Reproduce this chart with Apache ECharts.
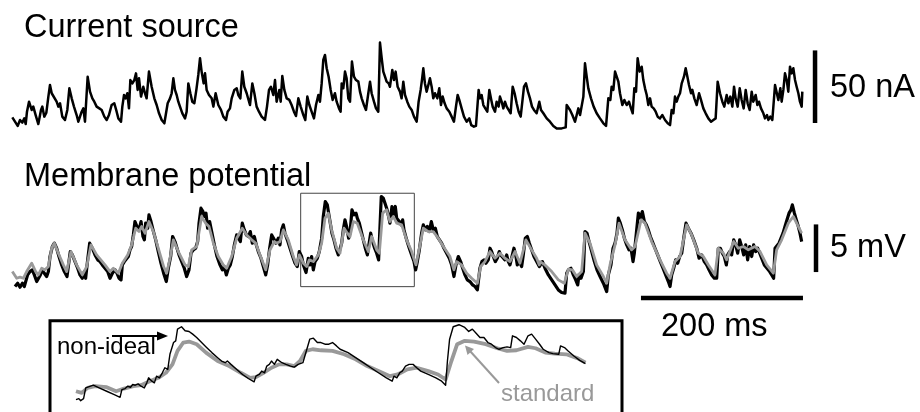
<!DOCTYPE html>
<html><head><meta charset="utf-8">
<script src="https://cdn.jsdelivr.net/npm/echarts@6/dist/echarts.min.js"></script>
<style>html,body{margin:0;padding:0;background:#fff}#c{width:920px;height:412px}</style>
</head><body><div id="c"></div>
<script>
// Current source trace: [time ms, current nA]
const currentTrace = [[0.4,8.7],[7.0,2.8],[9.9,6.9],[12.8,5.1],[15.2,8.0],[16.9,4.1],[18.5,12.6],[21.0,19.5],[24.3,13.8],[26.3,16.1],[29.2,10.3],[32.5,4.1],[35.8,13.8],[37.4,16.1],[39.9,9.2],[42.4,11.9],[44.9,23.0],[46.9,31.0],[49.0,25.3],[51.4,26.4],[55.1,19.5],[57.2,16.1],[59.3,18.4],[62.1,9.2],[65.4,6.9],[68.3,13.8],[70.8,28.7],[73.7,21.8],[76.5,16.1],[79.8,10.3],[81.9,5.7],[86.0,12.6],[88.1,14.9],[90.1,5.7],[93.4,36.7],[96.3,26.4],[99.2,21.8],[101.6,19.5],[104.5,16.1],[107.8,14.9],[110.7,13.8],[114.0,9.2],[116.9,6.9],[119.7,10.3],[123.0,17.2],[126.3,18.4],[129.2,12.6],[131.3,8.0],[134.6,5.7],[136.2,16.1],[138.3,24.1],[140.3,21.8],[142.4,25.3],[144.4,14.9],[146.1,34.4],[148.6,32.1],[151.0,34.4],[153.1,39.0],[155.1,27.6],[156.8,35.6],[159.3,23.0],[162.1,29.8],[164.2,25.3],[166.2,21.8],[169.1,40.2],[172.4,29.8],[175.7,21.8],[178.6,17.2],[181.5,11.5],[184.8,6.9],[188.1,4.6],[190.1,3.4],[192.2,18.4],[195.1,21.8],[197.1,25.3],[199.2,35.6],[201.2,27.6],[203.3,24.1],[205.3,19.5],[207.4,16.1],[210.3,11.5],[213.6,8.0],[215.6,12.6],[217.7,32.1],[220.2,25.3],[222.6,19.5],[225.1,18.4],[227.6,27.6],[230.0,37.9],[232.1,49.4],[234.1,40.2],[236.6,32.1],[238.3,39.0],[240.3,27.6],[243.2,24.1],[246.5,21.8],[248.6,16.1],[251.4,25.3],[254.7,17.2],[258.0,13.8],[260.9,9.2],[264.2,6.9],[266.2,12.6],[269.1,14.9],[271.2,21.8],[274.5,27.6],[277.4,28.7],[279.4,24.1],[281.9,21.8],[284.3,40.2],[286.8,29.8],[289.7,25.3],[293.8,17.2],[296.7,32.1],[299.2,25.3],[302.0,16.1],[304.9,12.6],[308.2,9.2],[312.3,6.9],[314.8,16.1],[317.3,27.6],[319.7,29.8],[322.6,24.1],
[324.7,34.4],[326.7,19.5],[330.0,27.6],[331.7,19.5],[333.7,37.2],[336.2,27.6],[339.1,21.8],[342.4,20.7],[345.2,17.2],[348.1,12.6],[350.6,9.6],[353.5,21.8],[356.4,16.1],[359.7,10.3],[362.1,6.9],[364.6,23.0],[367.1,17.2],[369.9,12.6],[372.8,8.0],[375.3,17.2],[378.2,24.1],[380.2,19.5],[382.3,32.1],[384.3,48.2],[386.4,51.7],[388.5,42.5],[390.9,36.7],[393.4,27.6],[395.9,20.7],[398.7,25.3],[400.8,19.5],[403.7,14.9],[405.7,12.6],[407.0,32.1],[409.0,28.7],[411.1,40.2],[413.1,35.6],[415.2,21.8],[417.3,19.5],[419.7,47.1],[422.2,36.7],[424.7,34.4],[427.6,33.3],[429.6,26.4],[431.7,21.8],[434.5,17.2],[437.0,13.8],[439.9,25.3],[442.0,33.3],[444.0,25.3],[446.9,19.5],[449.4,14.9],[452.2,12.6],[454.3,60.2],[456.4,49.4],[458.4,40.2],[460.5,36.7],[462.5,33.3],[465.0,32.1],[466.6,29.8],[469.5,41.3],[471.6,34.4],[473.6,40.2],[476.1,29.8],[479.0,26.4],[481.0,21.8],[483.1,33.3],[485.2,24.1],[488.0,19.5],[490.5,16.1],[493.4,13.8],[496.3,9.2],[499.6,5.7],[502.0,19.5],[504.5,27.6],[506.1,34.4],[507.8,42.5],[509.8,32.1],[511.9,26.4],[514.0,31.0],[516.0,35.6],[518.1,29.8],[520.1,21.8],[522.2,25.3],[525.1,21.8],[527.5,28.7],[529.6,17.2],[531.7,23.0],[534.1,18.4],[536.6,14.9],[539.9,12.6],[542.8,9.2],[545.6,5.7],[548.1,16.1],[550.2,24.1],[552.2,20.7],[555.1,14.9],[558.0,9.2],[561.3,5.7],[564.6,8.0],[567.0,3.4],[570.3,2.3],[572.8,2.8],[574.5,1.8],[576.1,27.6],[577.7,21.8],[579.8,24.1],[581.9,17.2],[584.3,14.9],[586.8,12.6],[589.3,27.6],[591.7,20.7],[593.4,16.1],[596.3,12.6],[598.3,19.5],[600.8,16.1],[602.4,23.0],[604.5,19.5],[606.6,14.9],[608.6,19.5],[610.7,16.1],[613.1,13.8],[615.6,11.5],[618.1,29.8],[620.5,25.3],[623.0,18.4],[625.5,12.6],[628.0,9.2],[630.4,10.3],[632.1,29.8],[634.5,32.1],[637.0,26.4],[639.5,21.8],[642.0,16.1],[644.4,13.8],[647.7,11.5],[651.0,19.5],
[653.1,13.8],[656.0,11.5],[660.1,8.0],[664.2,5.7],[668.3,2.8],[672.5,1.1],[678.6,1.1],[683.6,1.8],[684.8,17.2],[686.9,18.4],[688.9,13.8],[691.8,10.3],[695.1,5.7],[697.1,4.6],[699.2,14.9],[701.3,10.3],[703.3,9.2],[705.4,23.0],[707.4,45.9],[709.5,36.7],[711.5,28.7],[714.8,21.8],[718.1,16.1],[721.8,11.5],[725.9,8.0],[730.1,4.6],[733.4,2.8],[735.4,1.8],[736.2,21.8],[738.7,20.7],[740.3,29.8],[742.4,27.6],[744.5,40.2],[746.5,41.3],[748.6,33.3],[750.6,25.3],[753.5,17.2],[756.0,20.7],[758.9,17.2],[761.7,19.5],[764.2,14.9],[766.3,11.5],[768.3,28.7],[770.4,26.4],[772.4,49.4],[774.9,40.2],[777.4,43.6],[779.4,34.4],[781.5,28.7],[783.6,24.1],[785.6,17.2],[787.7,21.8],[789.7,16.1],[792.2,14.9],[794.7,12.6],[797.1,9.2],[800.0,8.0],[802.9,10.3],[806.2,6.9],[809.5,4.6],[812.4,3.4],[814.4,13.8],[816.5,11.5],[818.5,23.0],[820.6,19.5],[822.6,23.0],[824.7,25.3],[826.8,32.1],[829.6,36.7],[831.7,42.5],[833.8,36.7],[835.8,31.0],[838.3,25.3],[839.9,27.6],[842.4,21.8],[845.3,17.2],[848.2,25.3],[850.6,20.7],[853.5,14.9],[856.4,11.5],[859.7,8.0],[863.0,5.7],[865.9,6.9],[868.7,8.0],[871.2,33.3],[874.1,25.3],[877.0,19.5],[879.4,16.1],[882.3,24.1],[884.4,18.4],[886.8,23.0],[889.3,16.1],[891.4,29.8],[893.4,21.8],[895.9,16.1],[898.4,28.7],[900.8,20.7],[903.3,14.9],[905.8,27.6],[908.2,18.4],[910.7,13.8],[913.2,26.4],[915.2,19.5],[918.1,24.1],[920.2,17.2],[922.2,19.5],[924.7,14.9],[927.6,11.5],[929.6,8.0],[932.1,10.3],[933.8,6.9],[936.2,9.2],[938.7,6.9],[940.3,8.0],[942.0,31.0],[944.0,29.8],[946.1,20.7],[948.6,28.7],[950.2,19.5],[952.3,27.6],[954.3,39.0],[956.4,34.4],[958.4,26.4],[960.5,43.6],[962.6,39.0],[964.6,42.5],[966.7,34.4],[968.7,29.8],[970.8,25.3],[972.8,19.5],[974.9,16.1],[975.7,26.4]];

// Membrane potential, non-ideal source (black): [time ms, mV]
const vmNonIdeal = [[3.7,0.88],[7.0,1.23],[9.9,0.81],[12.8,1.23],[15.2,0.88],[16.9,1.4],[19.3,2.1],[22.2,2.45],[25.1,2.63],[27.6,2.1],[30.5,1.4],[32.5,1.23],[35.0,2.1],[37.4,2.63],[39.9,2.28],[42.8,1.93],[44.9,2.45],[46.9,4.03],[49.8,5.08],[52.3,5.43],[55.1,4.9],[58.0,4.03],[61.3,3.15],[64.6,2.45],[67.9,1.93],[69.5,2.98],[72.0,4.55],[74.5,4.2],[77.8,3.5],[81.1,2.8],[83.9,2.1],[86.8,1.75],[89.3,2.45],[90.9,1.75],[93.4,3.68],[95.9,5.43],[99.2,4.9],[102.5,4.2],[105.8,3.68],[108.6,3.5],[111.5,3.15],[114.8,2.8],[118.1,2.45],[121.0,1.75],[123.9,2.28],[127.2,2.63],[129.6,2.28],[132.1,1.75],[134.6,1.58],[136.2,3.15],[138.7,3.5],[141.1,3.68],[143.6,4.03],[145.7,4.73],[147.7,5.08],[149.8,6.3],[151.8,7.7],[154.3,7.18],[156.8,6.83],[159.3,7.7],[161.7,6.13],[163.4,5.78],[165.0,7.53],[167.5,7.0],[169.1,8.4],[171.6,7.7],[174.1,6.83],[177.4,5.78],[180.6,4.55],[183.9,3.33],[187.2,2.28],[190.5,1.4],[193.0,2.8],[195.9,4.03],[198.3,6.13],[201.2,5.6],[203.7,4.9],[206.2,4.2],[209.5,3.5],[212.7,2.8],[215.6,1.93],[218.5,2.63],[221.0,4.38],[223.9,4.73],[226.7,4.9],[229.2,5.6],[230.9,7.53],[233.3,9.1],[235.8,8.75],[237.4,8.23],[239.5,8.58],[241.5,7.0],[244.0,7.7],[246.5,6.65],[249.8,5.25],[253.1,4.03],[256.8,3.15],[259.7,2.63],[262.1,2.98],[264.6,2.1],[267.1,2.8],[269.5,3.15],[272.0,4.03],[274.5,5.25],[277.4,6.3],[279.4,6.13],[281.9,5.6],[284.3,7.53],[286.8,6.83],[289.3,6.3],[291.8,6.13],[294.2,6.65],[296.7,5.43],[299.2,6.13],[301.6,5.25],[304.1,4.55],[307.4,3.85],[310.3,2.98],[313.2,2.1],[315.6,3.15],[318.1,4.9],[320.6,6.3],[323.9,5.78],
[325.9,5.43],[328.8,5.95],[330.8,5.25],[332.9,6.83],[335.0,7.35],[337.0,6.48],[339.9,5.78],[343.2,4.9],[346.5,4.03],[349.4,3.33],[352.2,2.98],[354.7,4.55],[357.6,4.03],[359.7,3.15],[363.0,2.35],[365.8,3.85],[367.9,3.15],[369.9,4.03],[372.0,2.63],[374.1,3.5],[376.9,3.85],[379.4,4.55],[382.3,5.95],[384.3,8.23],[386.8,9.8],[389.3,9.45],[390.9,8.58],[392.6,7.7],[395.0,6.48],[397.5,5.78],[400.0,4.9],[402.9,4.2],[404.9,4.03],[407.0,5.43],[409.0,6.83],[411.1,7.88],[413.1,7.18],[415.6,5.95],[417.3,6.48],[419.7,8.93],[422.2,8.4],[424.7,8.58],[426.3,8.05],[428.8,7.53],[431.3,6.65],[433.7,5.78],[436.2,4.9],[438.7,4.2],[440.7,4.03],[442.8,6.48],[445.2,5.6],[447.7,4.9],[450.2,4.38],[452.6,3.68],[454.3,7.18],[455.9,10.33],[458.4,10.15],[460.5,9.63],[462.5,9.1],[465.0,8.23],[466.6,7.53],[469.1,9.28],[470.8,8.4],[473.2,9.28],[474.9,8.05],[478.2,7.7],[480.6,7.35],[482.3,7.88],[483.9,6.83],[487.2,5.78],[490.5,4.9],[493.4,4.2],[496.3,3.5],[498.3,2.63],[500.4,3.5],[502.9,4.73],[505.7,6.48],[507.8,7.35],[510.3,6.83],[512.7,7.18],[515.2,6.65],[517.7,7.7],[520.1,6.83],[522.6,7.0],[525.1,6.13],[527.5,6.3],[530.4,5.43],[533.3,4.9],[536.6,4.38],[539.9,3.85],[542.8,3.15],[545.6,1.93],[548.1,3.15],[551.0,4.03],[553.9,3.5],[556.4,2.8],[559.2,2.1],[562.1,1.58],[565.4,1.4],[568.7,1.05],[571.6,0.88],[574.5,0.53],[577.7,2.8],[580.2,3.5],[582.7,3.68],[585.2,3.33],[588.0,3.68],[590.1,4.9],[592.1,4.55],[594.2,4.03],[596.7,3.5],[599.1,3.85],[601.6,4.55],[603.3,4.2],[605.7,4.03],[608.6,3.68],[610.7,4.2],[612.7,3.5],[614.8,3.15],[616.8,3.85],[619.7,4.9],[622.2,4.03],[623.8,3.15],[626.3,3.5],[629.2,2.98],[631.2,4.2],[633.7,5.95],[636.2,6.13],[638.7,5.43],[641.5,4.73],[644.4,4.03],[647.7,3.5],[651.0,2.98],
[654.8,3.5],[658.0,2.8],[662.2,2.1],[666.3,1.58],[670.4,1.05],[674.5,0.53],[678.6,0.25],[682.7,0.18],[684.8,2.28],[686.9,2.63],[690.1,2.8],[693.0,2.1],[695.9,1.58],[698.4,1.05],[700.0,2.1],[702.5,1.75],[705.4,2.45],[707.4,6.65],[709.9,6.48],[712.4,5.6],[715.7,4.55],[719.0,3.5],[722.2,2.63],[726.0,1.93],[730.1,1.23],[734.2,0.35],[736.2,2.1],[739.5,3.15],[742.0,4.9],[744.5,5.43],[746.9,6.48],[748.6,8.05],[751.0,7.53],[753.5,6.83],[756.0,5.95],[758.9,5.25],[761.7,4.73],[764.2,4.9],[766.7,3.5],[768.3,4.38],[770.8,6.48],[773.3,8.58],[775.7,8.05],[778.2,8.75],[780.7,7.7],[783.1,7.35],[785.6,6.83],[788.1,6.13],[790.6,5.6],[793.8,4.9],[797.1,4.2],[800.4,3.5],[803.7,2.8],[807.0,2.1],[810.3,1.4],[812.4,0.88],[814.4,2.1],[816.9,2.8],[819.4,3.68],[821.8,3.33],[824.3,4.03],[826.8,4.38],[829.6,6.13],[832.1,7.53],[835.0,7.0],[838.3,6.48],[841.6,5.78],[845.3,4.9],[848.2,3.85],[851.5,4.2],[854.7,3.5],[857.6,3.15],[860.5,2.63],[863.8,2.1],[867.1,1.75],[870.0,1.75],[872.0,4.9],[874.5,4.9],[877.0,4.38],[879.4,4.03],[881.9,3.15],[883.6,4.2],[886.0,4.55],[888.5,4.2],[891.0,5.78],[893.4,5.25],[895.9,4.38],[898.4,5.78],[900.8,5.08],[903.3,4.2],[905.8,5.25],[908.2,3.68],[910.7,5.08],[913.2,4.03],[915.6,5.25],[918.1,4.55],[920.6,4.9],[923.1,4.38],[925.5,3.85],[928.8,3.15],[932.1,2.8],[935.4,2.45],[937.9,2.1],[940.3,1.75],[942.0,4.9],[944.4,5.08],[946.9,5.43],[949.4,5.95],[951.9,6.48],[954.3,7.18],[956.8,7.88],[959.3,8.58],[961.7,8.93],[963.4,9.45],[965.9,8.58],[968.3,7.88],[970.8,7.18],[972.8,6.48],[974.9,5.6]];

// Membrane potential, standard source (gray): [time ms, mV]
const vmStandard = [[0.4,2.45],[5.8,1.75],[9.9,1.86],[14.0,1.75],[18.1,2.45],[24.3,3.33],[29.2,2.45],[32.5,2.1],[36.6,2.8],[40.7,2.63],[44.9,2.98],[49.0,4.9],[52.3,5.43],[57.2,4.38],[63.4,3.15],[67.5,2.45],[72.8,4.55],[79.8,3.15],[86.8,2.1],[92.2,2.98],[97.5,5.25],[104.5,4.2],[114.8,3.15],[121.0,2.45],[125.1,2.8],[131.3,2.28],[136.2,3.33],[142.8,4.2],[147.7,5.25],[152.7,7.0],[156.8,6.65],[160.1,7.18],[164.2,6.48],[169.1,7.7],[174.5,6.65],[180.6,4.9],[187.2,2.98],[190.9,2.28],[195.1,3.85],[199.2,5.78],[205.3,4.55],[213.6,3.15],[217.7,2.98],[221.8,4.73],[228.0,5.08],[234.1,8.23],[239.1,7.53],[243.2,7.18],[248.6,5.43],[254.7,4.03],[260.9,3.15],[265.0,2.8],[271.2,4.03],[277.4,5.95],[284.3,7.0],[289.7,6.3],[295.9,5.78],[300.8,5.43],[306.2,4.2],[313.2,2.63],[318.5,4.73],[323.9,5.6],
[326.7,5.43],[330.8,5.6],[335.0,6.83],[341.1,5.78],[347.3,4.03],[351.4,3.15],[354.7,4.2],[359.7,3.33],[363.8,2.98],[367.1,3.68],[372.0,3.5],[378.2,4.2],[382.3,5.43],[386.4,8.05],[390.5,8.58],[394.6,6.83],[400.8,4.9],[404.9,4.38],[409.9,7.0],[414.0,6.48],[417.3,6.13],[421.4,7.7],[426.3,7.53],[433.7,5.78],[439.9,4.55],[444.0,6.13],[450.2,4.73],[453.5,4.38],[457.6,8.58],[462.5,8.93],[466.6,7.7],[470.8,8.23],[474.9,7.53],[481.0,7.35],[487.2,5.78],[493.4,4.55],[498.7,3.15],[502.9,4.9],[507.8,7.0],[514.0,6.65],[520.1,6.65],[526.3,5.95],[532.5,5.08],[540.7,4.03],[545.6,2.63],[548.9,3.5],[555.1,3.15],[561.3,2.28],[567.5,1.75],[574.5,1.23],[578.6,2.98],[583.9,3.5],[590.1,4.55],[596.3,3.85],[602.4,4.38],[608.6,3.85],[614.8,3.5],[621.0,4.55],[627.1,3.33],[634.5,5.78],[641.5,4.73],[647.7,3.85],[651.0,3.15],
[651.9,3.5],[658.0,3.15],[666.3,2.45],[674.5,1.58],[681.9,1.23],[686.9,2.7],[691.8,2.63],[697.1,1.93],[703.3,2.45],[707.4,6.48],[713.6,5.43],[721.8,3.15],[730.1,1.93],[734.2,1.23],[738.3,3.15],[744.5,5.25],[749.4,7.53],[756.8,5.78],[765.0,4.73],[769.2,5.08],[776.6,7.88],[781.5,7.53],[789.7,5.6],[800.0,3.68],[808.2,2.28],[812.4,1.75],[818.5,3.5],[824.7,4.03],[832.9,7.35],[839.1,6.3],[847.3,4.38],[853.5,4.03],[859.7,3.15],[867.9,2.1],[872.0,4.9],[878.2,4.38],[882.3,3.68],[891.0,5.6],[896.7,4.9],[902.9,5.08],[909.1,4.73],[917.3,5.08],[923.5,4.55],[931.7,3.15],[939.9,2.28],[944.0,4.73],[950.2,5.78],[958.4,7.53],[964.6,8.23],[970.8,7.18],[974.9,6.48]];

// Inset (boxed segment, expanded): non-ideal (black) and standard (gray): [time ms, mV]
const insetNonIdeal = [[356.0,0.6],[356.8,0.72],[357.3,0.48],[358.1,0.72],[358.7,2.0],[359.2,2.2],[360.8,2.32],[362.4,2.0],[364.5,1.6],[366.6,1.2],[368.2,0.88],[368.7,1.8],[369.6,1.92],[370.3,2.2],[371.1,2.08],[371.7,2.4],[372.4,2.32],[373.2,2.48],[374.0,2.2],[374.9,2.0],[375.6,2.6],[376.1,3.2],[377.0,2.8],[377.7,2.6],[378.3,3.4],[379.1,3.2],[379.9,3.8],[380.6,4.4],[381.4,4.2],[382.0,6.0],[383.0,7.4],[383.6,7.6],[384.1,9.0],[385.2,9.28],[386.2,8.8],[387.3,8.72],[388.3,8.4],[389.4,8.0],[390.5,7.52],[392.0,6.88],[393.6,6.2],[395.2,5.6],[396.3,5.2],[397.3,5.0],[397.9,5.2],[398.9,4.8],[400.5,4.2],[402.1,3.6],[403.7,3.12],[405.3,2.72],[405.8,3.4],[406.7,3.6],[407.4,4.0],[408.2,3.8],[408.8,4.6],[409.5,4.8],[410.1,5.2],[410.9,4.8],[411.7,5.4],[412.2,5.6],[413.0,5.0],[414.1,4.8],[415.4,4.6],[416.4,4.48],[417.5,4.8],[418.8,5.0],[420.7,7.8],[421.7,7.92],[422.8,7.4],[423.8,7.4],[424.9,7.2],[426.0,7.2],[427.0,7.4],[428.1,7.0],[429.1,6.6],[431.3,6.2],[433.4,5.6],[435.5,5.0],[437.6,4.4],[439.7,3.8],[441.9,3.2],[443.5,2.8],[444.0,3.4],[444.8,3.2],[445.6,3.8],[446.3,4.0],[447.2,4.6],[447.7,4.4],[448.2,4.8],[449.3,4.8],[450.3,4.4],[451.4,4.0],[453.5,3.6],[455.6,3.2],[457.2,2.8],[458.3,2.32],[458.8,5.2],[459.4,7.8],[460.4,9.28],[462.0,9.52],[463.6,9.2],[464.7,8.72],[465.7,9.0],[466.8,8.48],[467.8,8.0],[468.9,8.0],[470.0,7.4],[471.0,7.2],[472.1,6.8],[473.1,6.6],[474.2,6.8],[475.3,6.88],[476.3,6.8],[476.8,8.2],[477.9,8.0],[479.0,7.6],[480.0,7.2],[481.1,8.2],[482.1,8.4],[483.2,7.8],[484.3,7.2],[485.3,6.6],[486.9,6.2],[488.0,6.08],[489.6,6.0],[490.1,7.0],[491.2,6.8],[492.2,6.4],[493.8,5.8],[495.4,5.28],[497.0,4.88]];
const insetStandard = [[356.0,1.6],[357.6,1.4],[359.2,2.0],[361.3,2.2],[364.5,2.08],[367.1,1.6],[369.3,1.92],[371.9,2.2],[374.0,2.32],[376.1,2.72],[378.8,3.2],[380.9,3.8],[382.7,4.8],[384.1,6.4],[385.7,7.4],[387.3,7.52],[389.4,7.2],[392.0,6.2],[395.2,5.2],[398.4,4.6],[401.6,3.8],[404.2,3.2],[405.8,3.28],[407.9,3.8],[410.1,4.4],[412.2,4.8],[414.3,4.8],[416.4,4.6],[418.0,5.2],[419.6,6.4],[421.5,6.6],[423.8,6.48],[427.0,6.4],[430.2,6.0],[433.4,5.4],[436.6,4.6],[439.7,4.0],[442.9,3.4],[445.0,3.6],[447.7,4.2],[450.3,4.4],[453.5,4.0],[456.2,3.6],[458.3,3.0],[459.9,5.2],[461.5,7.2],[463.6,7.6],[466.2,7.52],[469.4,7.2],[472.6,6.72],[475.3,6.4],[477.9,6.48],[481.1,6.88],[483.2,6.72],[485.9,6.2],[488.5,6.08],[491.7,6.0],[494.9,5.52],[497.0,5.0]];

// Scale bars and zoom box (data units)
const barCurrentT = [991.4, 991.4], barCurrentI = [4.8, 54.8];     // 50 nA
const barVoltT = [992.6, 992.6], barVoltV = [2.4, 7.4];             // 5 mV
const barTimeT = [776.5, 976.5], barTimeV = [-0.31, -0.31];         // 200 ms
const zoomBoxT = [356.4, 496.7], zoomBoxV = [0.87, 10.67];
const labels = {title1:'Current source', title2:'Membrane potential', curBar:'50 nA', vBar:'5 mV', tBar:'200 ms', nonIdeal:'non-ideal', standard:'standard'};

const zip = (a, b) => a.map((v, i) => [v, b[i]]);
const FONT = '"Liberation Sans", Arial, sans-serif';
const chart = echarts.init(document.getElementById('c'), null, {renderer:'canvas'});
const hidden = {show:false};
chart.setOption({
  animation:false,
  backgroundColor:'#fff',
  grid:[
    {left:12, width:810, top:35.6, height:94.4},
    {left:12, width:810, top:190.1, height:109.6},
    {left:54.3, width:542, top:320.7, height:84}
  ],
  xAxis:[
    {type:'value', gridIndex:0, min:0, max:1000, ...hidden},
    {type:'value', gridIndex:1, min:0, max:1000, ...hidden},
    {type:'value', gridIndex:2, min:350, max:500, ...hidden}
  ],
  yAxis:[
    {type:'value', gridIndex:0, min:0, max:65, ...hidden},
    {type:'value', gridIndex:1, min:-0.5, max:11, ...hidden},
    {type:'value', gridIndex:2, min:0, max:10, ...hidden}
  ],
  series:[
    {type:'line', xAxisIndex:0, yAxisIndex:0, data:currentTrace, symbol:'none', lineStyle:{color:'#000', width:2.5, join:'round'}, clip:false},
    {type:'line', xAxisIndex:1, yAxisIndex:1, data:vmNonIdeal, symbol:'none', lineStyle:{color:'#000', width:3.2, join:'round'}, clip:false},
    {type:'line', xAxisIndex:1, yAxisIndex:1, data:vmStandard, symbol:'none', lineStyle:{color:'#999', width:2.8, join:'round'}, clip:false,
      markArea:{silent:true, itemStyle:{color:'rgba(0,0,0,0)', borderColor:'#444', borderWidth:1},
        data:[[{coord:[zoomBoxT[0], zoomBoxV[0]]},{coord:[zoomBoxT[1], zoomBoxV[1]]}]]}},
    {type:'line', xAxisIndex:2, yAxisIndex:2, data:insetStandard, symbol:'none', lineStyle:{color:'#999', width:3.8, join:'round'}, clip:false},
    {type:'line', xAxisIndex:2, yAxisIndex:2, data:insetNonIdeal, symbol:'none', lineStyle:{color:'#000', width:1.4, join:'round'}, clip:false},
    {type:'line', xAxisIndex:0, yAxisIndex:0, data:zip(barCurrentT, barCurrentI), symbol:'none', lineStyle:{color:'#000', width:4.5, cap:'butt'}, clip:false},
    {type:'line', xAxisIndex:1, yAxisIndex:1, data:zip(barVoltT, barVoltV), symbol:'none', lineStyle:{color:'#000', width:4.5, cap:'butt'}, clip:false},
    {type:'line', xAxisIndex:1, yAxisIndex:1, data:zip(barTimeT, barTimeV), symbol:'none', lineStyle:{color:'#000', width:4.5, cap:'butt'}, clip:false}
  ],
  graphic:[
    {type:'text', left:24, top:12, style:{text:labels.title1, font:'32.5px '+FONT, fill:'#000'}},
    {type:'text', left:24, top:161, style:{text:labels.title2, font:'32.5px '+FONT, fill:'#000'}},
    {type:'text', left:830, top:72, style:{text:labels.curBar, font:'32.5px '+FONT, fill:'#000'}},
    {type:'text', left:830, top:232, style:{text:labels.vBar, font:'32.5px '+FONT, fill:'#000'}},
    {type:'text', left:661, top:311, style:{text:labels.tBar, font:'32.5px '+FONT, fill:'#000'}},
    {type:'rect', shape:{x:50, y:320.7, width:572, height:100}, style:{fill:'none', stroke:'#000', lineWidth:3}},
    {type:'text', left:57, top:335, style:{text:labels.nonIdeal, font:'24px '+FONT, fill:'#000'}},
    {type:'text', left:501, top:382, style:{text:labels.standard, font:'24px '+FONT, fill:'#999'}},
    {type:'line', shape:{x1:112, y1:336, x2:160, y2:336}, style:{stroke:'#000', lineWidth:2}},
    {type:'polygon', shape:{points:[[168,336],[157,331.5],[157,340.5]]}, style:{fill:'#000'}},
    {type:'line', shape:{x1:499, y1:383, x2:470, y2:351}, style:{stroke:'#999', lineWidth:2}},
    {type:'polygon', shape:{points:[[465,345.5],[474,349],[467.5,355]]}, style:{fill:'#999'}}
  ]
});
</script></body></html>
